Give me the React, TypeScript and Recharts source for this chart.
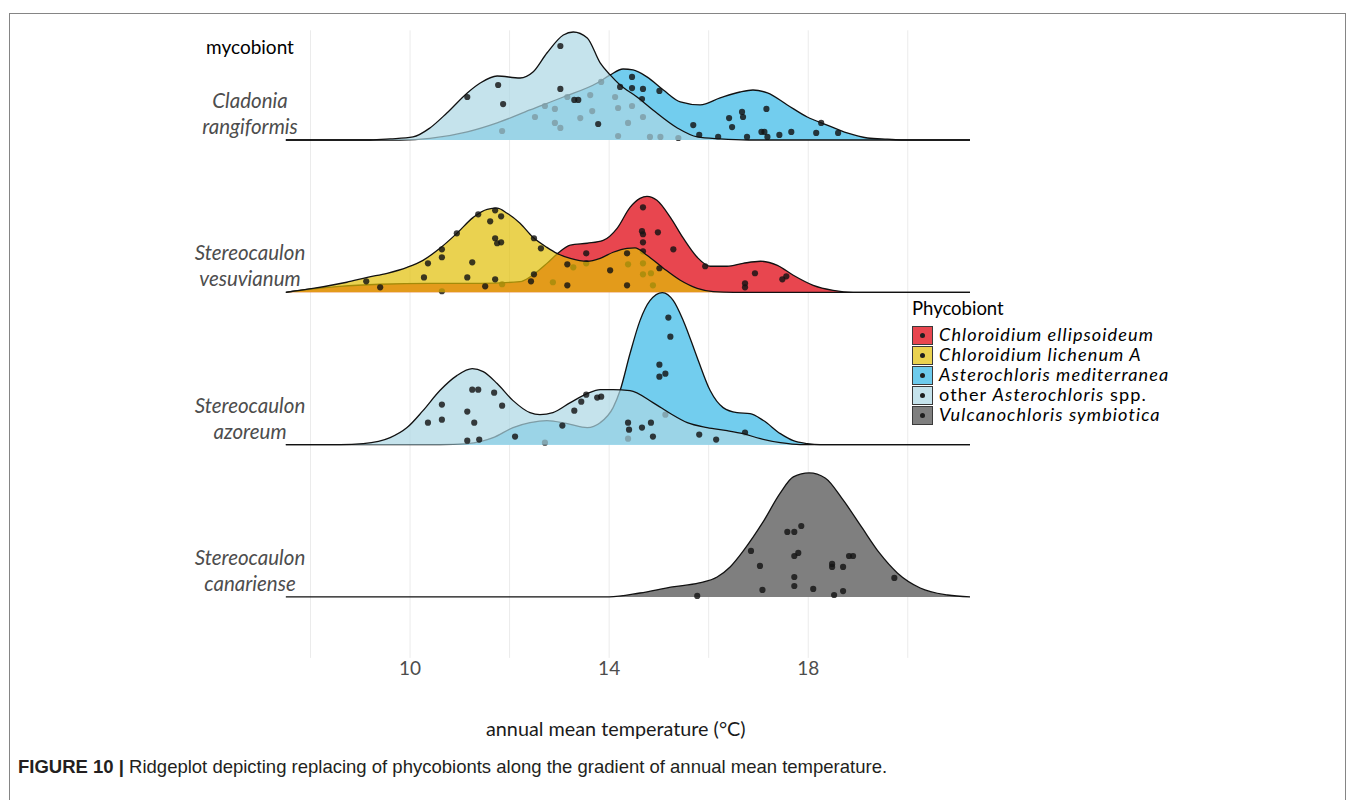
import React from 'react';
import { ComposedChart, Area, Scatter, XAxis, YAxis, CartesianGrid, Legend } from 'recharts';

type Pair = [number, number];

// ---------- density curves: [annual mean temperature (°C), ridge height] ----------
const cladoniaMediterraneaDensity: Pair[] = [
  [7.5, 0], [9.8, 0], [10.4, 0.01], [11.15, 0.053], [11.75, 0.112], [12.41, 0.197], [13.08, 0.282],
  [13.76, 0.374], [14.02, 0.427], [14.28, 0.466], [14.48, 0.46], [14.76, 0.414], [15.09, 0.328],
  [15.43, 0.25], [15.83, 0.23], [16.23, 0.276], [16.63, 0.315], [16.89, 0.328], [17.18, 0.309],
  [17.58, 0.23], [17.98, 0.151], [18.38, 0.098], [18.78, 0.046], [19.19, 0.013], [19.59, 0.005],
  [19.91, 0], [21.25, 0],
];
const cladoniaOtherDensity: Pair[] = [
  [7.5, 0], [9.2, 0], [9.6, 0.007], [10.06, 0.02], [10.4, 0.079], [10.74, 0.177], [11.15, 0.309],
  [11.41, 0.374], [11.75, 0.42], [12.21, 0.407], [12.47, 0.446], [12.75, 0.571], [13.08, 0.689],
  [13.28, 0.709], [13.56, 0.67], [13.82, 0.506], [14.02, 0.427], [14.22, 0.361], [14.56, 0.282],
  [14.88, 0.197], [15.37, 0.079], [15.77, 0.02], [16.23, 0.007], [16.8, 0], [21.25, 0],
];
const vesuvianumEllipsoideumDensity: Pair[] = [
  [7.5, 0], [7.99, 0.02], [8.59, 0.039], [9.4, 0.053], [10.4, 0.059], [11.41, 0.059], [12.21, 0.07],
  [12.45, 0.11], [12.75, 0.19], [12.95, 0.25], [13.22, 0.309], [13.56, 0.322], [13.88, 0.341],
  [14.16, 0.42], [14.42, 0.558], [14.62, 0.617], [14.76, 0.63], [14.96, 0.604], [15.23, 0.492],
  [15.49, 0.355], [15.77, 0.23], [16.03, 0.171], [16.37, 0.171], [16.69, 0.19], [17.04, 0.204],
  [17.38, 0.177], [17.7, 0.112], [18.1, 0.046], [18.5, 0.013], [18.9, 0], [21.25, 0],
];
const vesuvianumLichenumDensity: Pair[] = [
  [7.5, 0], [8.05, 0.026], [8.73, 0.066], [9.14, 0.098], [9.54, 0.125], [9.94, 0.164], [10.26, 0.21],
  [10.6, 0.289], [10.94, 0.387], [11.27, 0.492], [11.55, 0.545], [11.75, 0.552], [11.95, 0.519],
  [12.21, 0.453], [12.47, 0.361], [12.75, 0.295], [12.95, 0.256], [13.22, 0.223], [13.56, 0.204],
  [13.82, 0.223], [14.08, 0.263], [14.36, 0.289], [14.52, 0.292], [14.76, 0.243], [15.09, 0.158],
  [15.43, 0.079], [15.77, 0.026], [16.09, 0.005], [16.5, 0], [21.25, 0],
];
const azoreumMediterraneaDensity: Pair[] = [
  [7.5, 0], [10.6, 0], [11.15, 0.007], [11.67, 0.046], [12.07, 0.112], [12.41, 0.144], [12.75, 0.158],
  [13.16, 0.138], [13.56, 0.112], [13.82, 0.144], [14.08, 0.243], [14.22, 0.355], [14.42, 0.598],
  [14.62, 0.814], [14.82, 0.945], [15.07, 0.998], [15.29, 0.945], [15.49, 0.814], [15.77, 0.571],
  [16.03, 0.355], [16.29, 0.243], [16.57, 0.21], [16.83, 0.204], [17.1, 0.158], [17.44, 0.072],
  [17.7, 0.026], [17.98, 0.007], [18.24, 0], [21.25, 0],
];
const azoreumOtherDensity: Pair[] = [
  [7.5, 0], [8.6, 0], [9.06, 0.007], [9.6, 0.046], [9.94, 0.112], [10.26, 0.223], [10.6, 0.355],
  [10.94, 0.453], [11.25, 0.499], [11.47, 0.479], [11.75, 0.401], [12.07, 0.289], [12.41, 0.21],
  [12.61, 0.197], [12.87, 0.21], [13.22, 0.276], [13.56, 0.335], [13.82, 0.361], [14.08, 0.361],
  [14.42, 0.355], [14.88, 0.276], [15.23, 0.204], [15.57, 0.144], [15.97, 0.112], [16.37, 0.092],
  [16.69, 0.072], [17.04, 0.039], [17.44, 0.013], [17.84, 0], [21.25, 0],
];
const canarienseVulcanochlorisDensity: Pair[] = [
  [7.5, 0], [14.0, 0], [14.62, 0.026], [15.27, 0.066], [15.81, 0.092], [16.17, 0.131], [16.43, 0.197],
  [16.71, 0.309], [17.08, 0.486], [17.44, 0.683], [17.7, 0.788], [18.02, 0.814], [18.34, 0.781],
  [18.7, 0.637], [19.07, 0.46], [19.43, 0.289], [19.79, 0.158], [20.25, 0.059], [20.8, 0.013], [21.25, 0],
];

// ---------- jittered observations: [temperature, height within ridge] ----------
const cladoniaMediterraneaPoints: Pair[] = [
  [11.85, 0.059], [12.51, 0.151], [12.71, 0.223], [12.91, 0.204], [12.91, 0.112], [13.02, 0.079],
  [13.16, 0.282], [13.42, 0.144], [13.62, 0.295], [13.66, 0.19], [13.84, 0.381], [14.12, 0.282],
  [14.18, 0.21], [14.18, 0.026], [14.38, 0.112], [14.46, 0.223], [14.82, 0.02], [15.03, 0.02],
  [15.39, 0.013], [14.46, 0.414], [14.46, 0.341], [14.68, 0.335], [14.66, 0.269], [15.01, 0.322],
  [14.68, 0.151], [15.69, 0.098], [15.81, 0.033], [16.19, 0.02], [16.41, 0.144], [16.47, 0.085],
  [16.67, 0.184], [16.69, 0.151], [16.77, 0.02], [17.16, 0.204], [17.06, 0.053], [17.12, 0.053],
  [17.18, 0.02], [17.42, 0.033], [17.66, 0.053], [18.16, 0.046], [18.26, 0.112], [18.6, 0.046],
];
const cladoniaOtherPoints: Pair[] = [
  [11.15, 0.282], [11.77, 0.361], [11.87, 0.236], [13.02, 0.617], [13.02, 0.335], [13.3, 0.263],
  [13.38, 0.263], [13.78, 0.105], [14.22, 0.348],
];
const vesuvianumEllipsoideumPoints: Pair[] = [
  [10.64, 0.007], [11.85, 0.053], [12.87, 0.066], [13.28, 0.164], [13.54, 0.19], [14.38, 0.184],
  [14.68, 0.19], [14.68, 0.118], [14.84, 0.125], [14.88, 0.046], [13.54, 0.256], [14.68, 0.558],
  [14.66, 0.401], [14.68, 0.381], [14.98, 0.394], [14.68, 0.328], [14.68, 0.269], [15.29, 0.282],
  [15.93, 0.171], [16.93, 0.125], [16.73, 0.059], [16.73, 0.033], [17.48, 0.085], [17.56, 0.105],
];
const vesuvianumLichenumPoints: Pair[] = [
  [9.12, 0.072], [9.4, 0.033], [10.28, 0.098], [10.36, 0.19], [10.64, 0.282], [10.64, 0.23],
  [10.94, 0.387], [11.15, 0.098], [11.25, 0.197], [11.37, 0.512], [11.61, 0.466], [11.71, 0.538],
  [11.83, 0.499], [11.71, 0.355], [11.75, 0.322], [11.83, 0.328], [11.51, 0.039], [11.71, 0.085],
  [12.49, 0.355], [12.63, 0.289], [12.49, 0.118], [12.43, 0.072], [13.16, 0.184], [13.16, 0.046],
  [14.02, 0.144], [14.36, 0.256], [14.36, 0.046], [15.01, 0.158],
];
const azoreumMediterraneaPoints: Pair[] = [
  [12.71, 0.013], [14.38, 0.039], [15.13, 0.197], [15.19, 0.834], [15.23, 0.709], [15.01, 0.525],
  [15.01, 0.446], [15.13, 0.466], [16.73, 0.079],
];
const azoreumOtherPoints: Pair[] = [
  [10.36, 0.144], [10.64, 0.263], [10.64, 0.164], [11.15, 0.217], [11.25, 0.361], [11.37, 0.361],
  [11.29, 0.144], [11.69, 0.341], [11.85, 0.256], [11.15, 0.026], [11.39, 0.033], [12.11, 0.053],
  [13.06, 0.125], [13.3, 0.223], [13.44, 0.282], [13.54, 0.328], [13.76, 0.309], [13.84, 0.315],
  [14.38, 0.144], [14.4, 0.098], [14.66, 0.112], [14.84, 0.144], [14.88, 0.053], [15.81, 0.066],
  [16.15, 0.033],
];
const canarienseVulcanochlorisPoints: Pair[] = [
  [15.77, 0.007], [16.85, 0.302], [17.03, 0.204], [17.08, 0.046], [17.58, 0.427], [17.72, 0.427],
  [17.86, 0.466], [17.72, 0.269], [17.8, 0.289], [17.72, 0.131], [17.72, 0.072], [18.1, 0.053],
  [18.48, 0.217], [18.48, 0.197], [18.7, 0.197], [18.82, 0.269], [18.9, 0.269], [18.52, 0.013],
  [18.7, 0.039], [19.73, 0.125],
];

// ---------- labels ----------
const RIDGE_LABELS: string[][] = [
  ['Stereocaulon', 'canariense'],
  ['Stereocaulon', 'azoreum'],
  ['Stereocaulon', 'vesuvianum'],
  ['Cladonia', 'rangiformis'],
];
const RIDGE_TICKS = [0, 1, 2, 3];
const X_TICKS = [8, 10, 12, 14, 16, 18, 20];
const X_LABELED_TICKS = [10, 14, 18];
const Y_TITLE = 'mycobiont';
const X_TITLE = 'annual mean temperature (°C)';
const LEGEND_TITLE = 'Phycobiont';
const CAPTION_BOLD = 'FIGURE 10 |';
const CAPTION_TEXT = 'Ridgeplot depicting replacing of phycobionts along the gradient of annual mean temperature.';

// ---------- styling ----------
const FONT = 'Lato, "Open Sans", sans-serif';
const RED = '#E8464F';
const YELLOW = '#E1BF05';
const BLUE = '#72CDEE';
const LIGHT = '#ACD7E4';
const GRAY = '#7F7F7F';
const X_MIN = 7.5;
const X_MAX = 21.25;

type Part = { t: string; i: boolean };
const PHYCOBIONTS: { id: string; swatch: string; parts: Part[] }[] = [
  { id: 'ell', swatch: '#E8464F', parts: [{ t: 'Chloroidium ellipsoideum', i: true }] },
  { id: 'lic', swatch: '#EAD250', parts: [{ t: 'Chloroidium lichenum A', i: true }] },
  { id: 'med', swatch: '#6DCBED', parts: [{ t: 'Asterochloris mediterranea', i: true }] },
  { id: 'oth', swatch: '#C5E3EC', parts: [{ t: 'other ', i: false }, { t: 'Asterochloris', i: true }, { t: ' spp.', i: false }] },
  { id: 'vul', swatch: '#7F7F7F', parts: [{ t: 'Vulcanochloris symbiotica', i: true }] },
];

const SERIES = [
  { id: 'clad-med', ridge: 3, density: cladoniaMediterraneaDensity, points: cladoniaMediterraneaPoints, fill: BLUE, opacity: 1 },
  { id: 'clad-oth', ridge: 3, density: cladoniaOtherDensity, points: cladoniaOtherPoints, fill: LIGHT, opacity: 0.7 },
  { id: 'vesu-ell', ridge: 2, density: vesuvianumEllipsoideumDensity, points: vesuvianumEllipsoideumPoints, fill: RED, opacity: 1 },
  { id: 'vesu-lic', ridge: 2, density: vesuvianumLichenumDensity, points: vesuvianumLichenumPoints, fill: YELLOW, opacity: 0.7 },
  { id: 'azor-med', ridge: 1, density: azoreumMediterraneaDensity, points: azoreumMediterraneaPoints, fill: BLUE, opacity: 1 },
  { id: 'azor-oth', ridge: 1, density: azoreumOtherDensity, points: azoreumOtherPoints, fill: LIGHT, opacity: 0.7 },
  { id: 'cana-vul', ridge: 0, density: canarienseVulcanochlorisDensity, points: canarienseVulcanochlorisPoints, fill: GRAY, opacity: 1 },
];

const toRidge = (pairs: Pair[], offset: number) => pairs.map(([x, h]) => ({ x, y: offset + h }));

const CHART_W = 1339;
const CHART_H = 760;
const MARGIN = { top: 22.3, right: 377, bottom: 20.1, left: 0 };
const Y_AXIS_W = 277.6;
const X_AXIS_H = 90;
const LABEL_CX = 242;
const TEXT_SIZE = 19;
const RIDGE_TEXT_SIZE = 20.5;
const TITLE_SHIFT = -12;

const renderRidgeTick = (props: any) => {
  const { y, payload } = props;
  const lines = RIDGE_LABELS[payload.value];
  if (!lines) return <g />;
  return (
    <g>
      <text x={LABEL_CX} y={y - 40} textAnchor="middle" dominantBaseline="central" fill="#4D4D4D"
        fontSize={RIDGE_TEXT_SIZE} fontStyle="italic" fontFamily={FONT}>{lines[0]}</text>
      <text x={LABEL_CX} y={y - 14} textAnchor="middle" dominantBaseline="central" fill="#4D4D4D"
        fontSize={RIDGE_TEXT_SIZE} fontStyle="italic" fontFamily={FONT}>{lines[1]}</text>
    </g>
  );
};

const renderYTitle = () => (
  <text x={LABEL_CX} y={38} textAnchor="middle" dominantBaseline="central" fill="#000"
    fontSize={TEXT_SIZE} fontFamily={FONT}>{Y_TITLE}</text>
);

const renderXTitle = (p: any) => {
  const vb = p && p.viewBox && typeof p.viewBox.x === 'number' ? p.viewBox : null;
  const plotW = CHART_W - MARGIN.left - MARGIN.right - Y_AXIS_W;
  const cx = vb ? vb.x + vb.width / 2 : MARGIN.left + Y_AXIS_W + plotW / 2;
  const bottom = vb ? vb.y + vb.height : CHART_H - MARGIN.bottom;
  return (
    <text x={cx + TITLE_SHIFT} y={bottom - 12} textAnchor="middle" fill="#1A1A1A"
      fontSize={19.8} fontFamily={FONT}>{X_TITLE}</text>
  );
};

const renderDot = (p: any) => (
  <circle cx={p.cx} cy={p.cy} r={3.1} fill="#141414" fillOpacity={0.82} />
);

const gridX = (p: any) => {
  const s = p && p.xAxis ? p.xAxis.scale : undefined;
  return X_TICKS.map((t) =>
    typeof s === 'function' ? s(t) : p.offset.left + ((t - X_MIN) / (X_MAX - X_MIN)) * p.offset.width,
  );
};

const renderLegend = () => (
  <div style={{ position: 'relative', width: 300, height: 140, fontFamily: FONT, color: '#000' }}>
    <div style={{ position: 'absolute', left: 0, top: 0, height: 22, lineHeight: '22px', fontSize: 18.5, whiteSpace: 'nowrap' }}>
      {LEGEND_TITLE}
    </div>
    {PHYCOBIONTS.map((p, i) => (
      <div key={p.id} style={{ position: 'absolute', left: 0, top: 28 + i * 20, height: 20, display: 'flex', alignItems: 'center' }}>
        <div style={{ width: 21, height: 19, boxSizing: 'border-box', border: '1.5px solid #3a3a3a', background: p.swatch, position: 'relative' }}>
          <div style={{ position: 'absolute', left: '50%', top: '50%', width: 5, height: 5, marginLeft: -2.5, marginTop: -2.5, borderRadius: '50%', background: '#1f1f1f' }} />
        </div>
        <span style={{ marginLeft: 6, display: 'inline-block', fontSize: 16.6, lineHeight: '20px', letterSpacing: 1.0, whiteSpace: 'nowrap', transform: 'scaleX(1.09)', transformOrigin: 'left center' }}>
          {p.parts.map((part, k) => (
            <span key={k} style={{ fontStyle: part.i ? 'italic' : 'normal' }}>{part.t}</span>
          ))}
        </span>
      </div>
    ))}
  </div>
);

export default function App() {
  return (
    <div style={{ position: 'relative', width: CHART_W, height: 792 }}>
      <div style={{ position: 'absolute', left: 1, top: 5, width: 1337, height: 820, border: '1px solid #858585', boxSizing: 'border-box' }} />
      <div style={{ position: 'absolute', left: 0, top: 0 }}>
        <ComposedChart width={CHART_W} height={CHART_H} margin={MARGIN}>
          <CartesianGrid horizontal={false} stroke="#EBEBEB" strokeWidth={1} verticalCoordinatesGenerator={gridX} />
          <XAxis type="number" dataKey="x" domain={[X_MIN, X_MAX]} allowDataOverflow ticks={X_TICKS} interval={0}
            tickFormatter={(v: number) => (X_LABELED_TICKS.includes(v) ? String(v) : '')}
            axisLine={false} tickLine={false} tickSize={0} tickMargin={4} height={X_AXIS_H}
            tick={{ fill: '#4D4D4D', fontSize: TEXT_SIZE, fontFamily: FONT }}
            label={renderXTitle} />
          <YAxis type="number" dataKey="y" domain={[-0.4, 3.72]} allowDataOverflow ticks={RIDGE_TICKS} interval={0}
            width={Y_AXIS_W} axisLine={false} tickLine={false} tick={renderRidgeTick} label={renderYTitle} />
          {SERIES.flatMap((s, i) => [
            <Area key={`${s.id}-area`} data={toRidge(s.density, s.ridge)} dataKey="y" type="monotone"
              baseValue={s.ridge} fill={s.fill} fillOpacity={s.opacity} stroke="#111" strokeWidth={1.3}
              dot={false} activeDot={false} isAnimationActive={false} legendType="none" zIndex={100 + 2 * i} />,
            <Scatter key={`${s.id}-pts`} data={toRidge(s.points, s.ridge)} dataKey="y" shape={renderDot}
              isAnimationActive={false} legendType="none" zIndex={101 + 2 * i} />,
          ])}
          <Legend layout="vertical" align="center" verticalAlign="middle" content={renderLegend}
            wrapperStyle={{ left: 904, top: 289, width: 300, height: 140 }} />
        </ComposedChart>
      </div>
      <div style={{ position: 'absolute', left: 10, top: 749, height: 20, lineHeight: '20px', fontFamily: '"Liberation Sans", Arial, sans-serif', fontSize: 18.5, color: '#231F20', whiteSpace: 'nowrap' }}>
        <span style={{ fontWeight: 'bold' }}>{CAPTION_BOLD}</span> {CAPTION_TEXT}
      </div>
    </div>
  );
}
